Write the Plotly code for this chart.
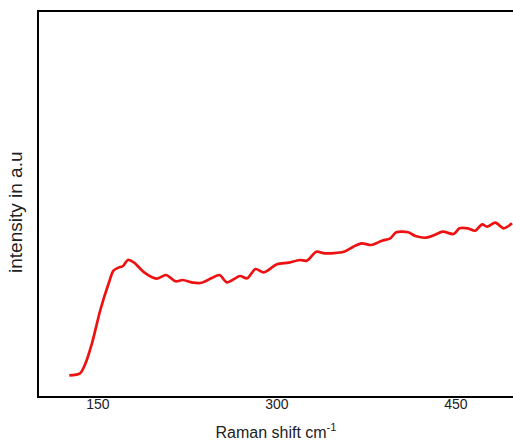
import plotly.graph_objects as go

raman_shift = [126, 135, 139, 145, 152, 159, 163, 167, 171, 175, 180, 189, 199, 207, 215, 221,
               230, 237, 245, 252, 258, 269, 275, 282, 289, 300, 310, 319, 325, 333, 340, 356,
               364, 371, 379, 388, 395, 400, 410, 416, 425, 432, 439, 448, 453, 460, 466, 472,
               476, 483, 490, 497]
intensity = [20.7, 22.7, 31, 52.7, 86, 112.7, 125.3, 128.3, 130, 136, 133.7, 123.3, 117.3, 121,
             114.7, 116, 113.3, 113.3, 117.7, 121, 113.7, 120, 117.7, 127, 123.7, 131.7, 133.3,
             136, 135.3, 144.3, 142.7, 144.3, 149.3, 152.7, 151, 155.3, 157.7, 163.7, 163.7, 160,
             158.3, 161, 164.3, 162, 167.7, 167.7, 165.3, 171.7, 169.3, 173.3, 167.7, 172.7]
x_ticks = [150, 300, 450]

fig = go.Figure(go.Scatter(x=raman_shift, y=intensity, mode="lines",
                           line=dict(color="#ee1111", width=2.7, shape="spline", smoothing=0.8)))
fig.update_layout(
    width=513, height=441,
    margin=dict(l=39, r=0, t=12, b=45),
    plot_bgcolor="white", paper_bgcolor="white",
    font=dict(family="Liberation Sans, Arial, sans-serif", color="#222"),
    showlegend=False,
    annotations=[dict(text="intensity in a.u", xref="paper", yref="paper", x=0, y=0.4766,
                      xanchor="center", yanchor="middle", xshift=-23, textangle=-90,
                      showarrow=False, font=dict(size=19))],
)
fig.update_xaxes(range=[100.6, 497.8], tickvals=x_ticks, ticks="", showgrid=False,
                 zeroline=False, showline=True, linecolor="black", linewidth=2, mirror=True,
                 tickfont=dict(size=14), ticklabelstandoff=-6,
                 title=dict(text="Raman shift cm<sup>-1</sup>", font=dict(size=16), standoff=16))
fig.update_yaxes(range=[0, 384], showticklabels=False, ticks="", showgrid=False,
                 zeroline=False, showline=True, linecolor="black", linewidth=2)
fig.write_html("out.html", config={"displayModeBar": False},
               post_script="document.body.style.margin='0';document.body.style.overflow='hidden';")
